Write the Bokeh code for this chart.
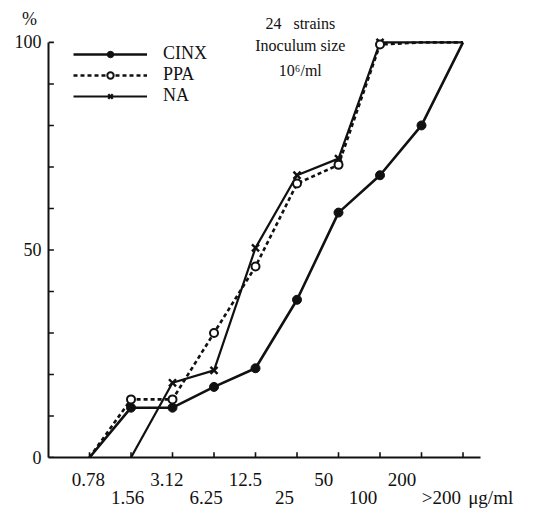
from bokeh.plotting import figure
from bokeh.models import (Range1d, FixedTicker, LinearAxis, Label,
                          ColumnDataSource, Legend, LegendItem)
from bokeh.embed import file_html
from bokeh.resources import INLINE

# ---- data ----
categories = ["0.78", "1.56", "3.12", "6.25", "12.5", "25", "50", "100", "200", ">200"]
cinx = [0, 12, 12, 17, 21.5, 38, 59, 68, 80, 100]
ppa = [0, 14, 14, 30, 46, 66, 70.5, 99.5, 100, 100]
na = [float("nan"), 0, 18, 21, 50.5, 68, 72, 100, 100, 100]
y_ticks = [0, 10, 20, 30, 40, 50, 60, 70, 80, 90, 100]
y_tick_labels = {0: "0", 50: "50", 100: "100"}
y_unit = "%"
x_unit = "μg/ml"
note_lines = ["24\u00a0\u00a0\u00a0strains", "Inoculum size", "10⁶/ml"]

xs = list(range(len(categories)))
FONT = "Liberation Serif"
INK = "#111111"
NB = "\u00a0"
X0, X1 = -0.988, 10.578
TICK_X, TICK_Y = 0.13, 1.25   # inward tick lengths (about 5 px)

p = figure(width=541, height=512, output_backend="svg", toolbar_location=None,
           x_range=Range1d(X0, X1), y_range=Range1d(0, 110.1),
           x_axis_type=None, y_axis_type=None,
           min_border_left=48, min_border_right=13, min_border_top=0, min_border_bottom=55)
p.outline_line_color = None
p.background_fill_color = "white"
p.border_fill_color = "white"
p.extra_x_ranges = {"lab": Range1d(-1.020, 11.224)}

# y axis (the unit sign sits above the top label)
yaxis = LinearAxis(ticker=FixedTicker(ticks=y_ticks), bounds=(0, 100))
overrides = {t: y_tick_labels.get(t, "") for t in y_ticks}
overrides[100] = f"{y_unit}{NB}\n{y_tick_labels[100]}\n{NB}"
yaxis.major_label_overrides = overrides
yaxis.axis_line_width = 2
yaxis.axis_line_color = INK
yaxis.major_tick_in = 0
yaxis.major_tick_out = 0
yaxis.minor_tick_line_color = None
yaxis.major_label_standoff = 7
yaxis.major_label_text_font = FONT
yaxis.major_label_text_font_size = "18px"
yaxis.major_label_text_line_height = 1.15
yaxis.major_label_text_color = INK
p.add_layout(yaxis, "left")

# x axis line
xaxis = LinearAxis(ticker=FixedTicker(ticks=xs), bounds=(X0, 9.42))
xaxis.major_label_overrides = {i: "" for i in xs}
xaxis.major_label_text_font_size = "1px"
xaxis.major_label_standoff = 0
xaxis.axis_line_width = 2
xaxis.axis_line_color = INK
xaxis.major_tick_in = 0
xaxis.major_tick_out = 0
xaxis.minor_tick_line_color = None
p.add_layout(xaxis, "below")

# small inward tick marks
n_y = len(y_ticks)
p.segment(x0=[X0] * n_y, y0=y_ticks, x1=[X0 + TICK_X] * n_y, y1=y_ticks,
          line_color=INK, line_width=1.6)
p.segment(x0=xs, y0=[0] * len(xs), x1=xs, y1=[TICK_Y] * len(xs),
          line_color=INK, line_width=1.6)

# concentration labels, in two staggered rows (as typeset in the original),
# plus the unit after the last one
unit_pos = 10.26
laxis = LinearAxis(ticker=FixedTicker(ticks=xs + [unit_pos]), x_range_name="lab")
lab_over = {i: (f"{c}\n{NB}" if i % 2 == 0 else f"{NB}\n{c}") for i, c in zip(xs, categories)}
lab_over[unit_pos] = f"{NB}\n{x_unit}"
laxis.major_label_overrides = lab_over
laxis.axis_line_color = None
laxis.major_tick_line_color = None
laxis.minor_tick_line_color = None
laxis.major_tick_in = 0
laxis.major_tick_out = 0
laxis.major_label_standoff = 11
laxis.major_label_text_font = FONT
laxis.major_label_text_font_size = "19px"
laxis.major_label_text_line_height = 0.88
laxis.major_label_text_color = INK
p.add_layout(laxis, "below")

# notes
for txt, yy in zip(note_lines, (104.6, 99.3, 93.3)):
    p.add_layout(Label(x=5.08, y=yy, text=txt, text_align="center", text_baseline="alphabetic",
                       text_font=FONT, text_font_size="16px", text_color=INK))

# series
src = ColumnDataSource(dict(x=xs, cinx=cinx, ppa=ppa, na=na))
l_cinx = p.line("x", "cinx", source=src, line_color=INK, line_width=2.6)
l_na = p.line("x", "na", source=src, line_color=INK, line_width=2.2)
l_ppa = p.line("x", "ppa", source=src, line_color=INK, line_width=2.6, line_dash="4 3")

m_cinx_src = ColumnDataSource(dict(x=xs[1:9], y=cinx[1:9]))
m_ppa_src = ColumnDataSource(dict(x=xs[1:8], y=ppa[1:8]))
m_na_src = ColumnDataSource(dict(x=xs[2:8], y=na[2:8]))
m_cinx = p.scatter("x", "y", source=m_cinx_src, marker="circle", size=9,
                   fill_color=INK, line_color=INK)
m_na = p.scatter("x", "y", source=m_na_src, marker="x", size=10,
                 line_color=INK, line_width=2.4)
m_ppa = p.scatter("x", "y", source=m_ppa_src, marker="circle", size=8,
                  fill_color="white", line_color=INK, line_width=2)

legend = Legend(items=[LegendItem(label="CINX", renderers=[l_cinx, m_cinx]),
                       LegendItem(label="PPA", renderers=[l_ppa, m_ppa]),
                       LegendItem(label="NA", renderers=[l_na, m_na])],
                location=(25, 351), orientation="vertical",
                glyph_width=74, glyph_height=16, label_height=16, spacing=0,
                padding=0, margin=0, label_standoff=16,
                label_text_font=FONT, label_text_font_size="18px", label_text_color=INK,
                border_line_alpha=0, background_fill_alpha=0)
p.add_layout(legend)

open("out.html", "w").write(file_html(p, INLINE))
